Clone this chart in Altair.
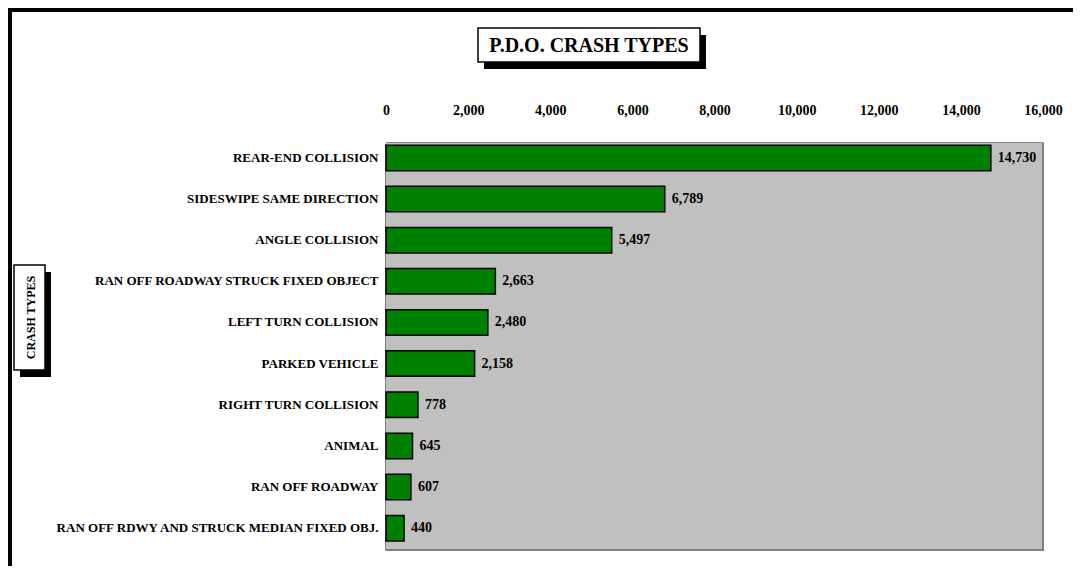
import altair as alt
import pandas as pd

title_text = "P.D.O. CRASH TYPES"
axis_title = "CRASH TYPES"
categories = [
    "REAR-END COLLISION",
    "SIDESWIPE SAME DIRECTION",
    "ANGLE COLLISION",
    "RAN OFF ROADWAY STRUCK FIXED OBJECT",
    "LEFT TURN COLLISION",
    "PARKED VEHICLE",
    "RIGHT TURN COLLISION",
    "ANIMAL",
    "RAN OFF ROADWAY",
    "RAN OFF RDWY AND STRUCK MEDIAN FIXED OBJ.",
]
values = [14730, 6789, 5497, 2663, 2480, 2158, 778, 645, 607, 440]
x_ticks = [0, 2000, 4000, 6000, 8000, 10000, 12000, 14000, 16000]

FONT = "Liberation Serif"
W, H = 657, 407
PL, PT, PR, PB = 378, 135, 30, 16

df = pd.DataFrame({"type": categories, "value": values})
one = pd.DataFrame({"a": [0]})

yenc = alt.Y(
    "type:N",
    sort=categories,
    scale=alt.Scale(paddingInner=0.38, paddingOuter=0.136, align=0.19),
    axis=alt.Axis(
        title=None, ticks=False, domain=True, domainColor="black", domainWidth=2,
        labelFont=FONT, labelFontSize=13, labelFontWeight="bold", labelColor="black",
        labelPadding=8, labelLimit=400,
    ),
)
xenc = alt.X(
    "value:Q",
    scale=alt.Scale(domain=[0, 16000], nice=False, zero=True),
    axis=alt.Axis(
        orient="top", title=None, values=x_ticks, format=",d", ticks=False, grid=False,
        domain=True, domainColor="black", domainWidth=2,
        labelFont=FONT, labelFontSize=14, labelFontWeight="bold", labelColor="black",
        labelPadding=26, labelFlush=False, labelOverlap=False,
    ),
)

plot_bg = alt.Chart(one).mark_rect(color="#C0C0C0").encode(
    x=alt.value(0), x2=alt.value(W), y=alt.value(0), y2=alt.value(H)
)
bars = alt.Chart(df).mark_bar(color="#008000", stroke="black", strokeWidth=1.5).encode(
    y=yenc, x=xenc
)
labels = alt.Chart(df).mark_text(
    align="left", baseline="middle", dx=7, font=FONT, fontSize=14, fontWeight="bold", color="black"
).encode(y=alt.Y("type:N", sort=categories), x="value:Q", text=alt.Text("value:Q", format=",d"))

right_line = alt.Chart(one).mark_rule(color="#808080", strokeWidth=2).encode(
    x=alt.value(W), y=alt.value(0), y2=alt.value(H + 1)
)
bottom_line = alt.Chart(one).mark_rule(color="#808080", strokeWidth=2).encode(
    y=alt.value(H), x=alt.value(0), x2=alt.value(W + 1)
)

# outer frame
frame_top = alt.Chart(one).mark_rect(color="black").encode(
    x=alt.value(-PL), x2=alt.value(W + PR), y=alt.value(-PT), y2=alt.value(-PT + 4)
)
frame_left = alt.Chart(one).mark_rect(color="black").encode(
    x=alt.value(-PL), x2=alt.value(-PL + 4), y=alt.value(-PT), y2=alt.value(H + PB)
)

# title box
tx0, tx1, ty0, ty1 = 92, 314, -115, -81
title_shadow = alt.Chart(one).mark_rect(color="black").encode(
    x=alt.value(tx0 + 6), x2=alt.value(tx1 + 6), y=alt.value(ty0 + 7), y2=alt.value(ty1 + 7)
)
title_box = alt.Chart(one).mark_rect(fill="white", stroke="black", strokeWidth=1.5).encode(
    x=alt.value(tx0), x2=alt.value(tx1), y=alt.value(ty0), y2=alt.value(ty1)
)
title_mark = alt.Chart(one).mark_text(
    text=title_text, font=FONT, fontSize=20, fontWeight="bold", color="black",
    align="center", baseline="middle",
).encode(x=alt.value((tx0 + tx1) / 2), y=alt.value((ty0 + ty1) / 2 + 1))

# axis title box
ax0, ax1, ay0, ay1 = -372, -341, 122, 227
ax_shadow = alt.Chart(one).mark_rect(color="black").encode(
    x=alt.value(ax0 + 6), x2=alt.value(ax1 + 6), y=alt.value(ay0 + 7), y2=alt.value(ay1 + 7)
)
ax_box = alt.Chart(one).mark_rect(fill="white", stroke="black", strokeWidth=1.5).encode(
    x=alt.value(ax0), x2=alt.value(ax1), y=alt.value(ay0), y2=alt.value(ay1)
)
ax_text = alt.Chart(one).mark_text(
    text=axis_title, font=FONT, fontSize=12, fontWeight="bold", color="black",
    align="center", baseline="middle", angle=270,
).encode(x=alt.value((ax0 + ax1) / 2 + 1), y=alt.value((ay0 + ay1) / 2))

chart = alt.layer(
    plot_bg, bars, labels, right_line, bottom_line, frame_top, frame_left,
    title_shadow, title_box, title_mark, ax_shadow, ax_box, ax_text,
).properties(
    width=W, height=H,
    autosize=alt.AutoSizeParams(type="none"),
    padding={"left": PL, "top": PT, "right": PR, "bottom": PB},
).configure_view(stroke=None).configure(background="white")

chart.save("out.html", embed_options={"renderer": "svg", "actions": False})
